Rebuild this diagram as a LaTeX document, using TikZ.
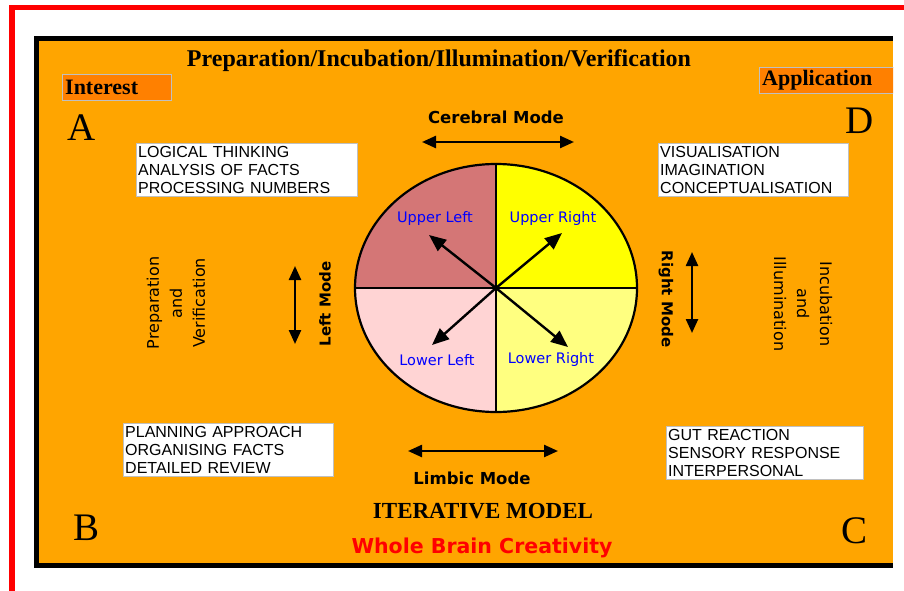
\documentclass[tikz,border=0pt]{standalone}
\usepackage{fontspec}
\setmainfont{Liberation Serif}
\newfontfamily\arialfont{Liberation Sans}
\newfontfamily\dejavufont{DejaVu Sans}
\usetikzlibrary{positioning,arrows.meta,shapes.geometric}
\definecolor{panelorange}{HTML}{FFA500}
\definecolor{tagorange}{HTML}{FF8000}
\definecolor{boxgray}{HTML}{C0C0C0}
\definecolor{ulcol}{HTML}{D47676}
\definecolor{urcol}{HTML}{FFFF00}
\definecolor{llcol}{HTML}{FFD4D4}
\definecolor{lrcol}{HTML}{FFFF80}

\begin{document}
\begin{tikzpicture}[x=1pt, y=-1pt, >={Triangle[length=14pt, width=12pt]}]
\tikzstyle{infobox}=[draw=boxgray, fill=white, anchor=north west, align=left, inner xsep=2pt, inner ysep=3pt, font=\arialfont\fontsize{16}{18}\selectfont]
\tikzstyle{tagbox}=[draw=boxgray, fill=tagorange, anchor=north west, align=left, inner xsep=3pt, inner ysep=0pt, minimum height=26pt, font=\bfseries\fontsize{22}{24}\selectfont]
\tikzstyle{corner}=[font=\fontsize{39}{40}\selectfont]
\tikzstyle{modelabel}=[font=\dejavufont\bfseries\fontsize{16.5}{18}\selectfont]
\tikzstyle{sidelabel}=[font=\dejavufont\bfseries\fontsize{15}{17}\selectfont]
\tikzstyle{phase}=[align=center, font=\dejavufont\fontsize{16}{23}\selectfont]
\tikzstyle{quadlabel}=[text=blue, font=\dejavufont\fontsize{14.5}{16}\selectfont]
\tikzstyle{modearrow}=[<->, line width=2.4pt]
\tikzstyle{quadarrow}=[->, line width=2.4pt, >={Triangle[length=17pt, width=14pt]}]
\useasboundingbox (0,0) rectangle (904,591);

% frame and panel
\fill[red] (9,5) rectangle (904,10);
\fill[red] (9,5) rectangle (15,591);
\fill[black] (34,36) rectangle (893,568);
\fill[panelorange] (39,41) rectangle (893,563);

% headings
\node[font=\bfseries\fontsize{24}{26}\selectfont] (title) at (439,61) {Preparation/Incubation/Illumination/Verification};
\node[tagbox, text width=103pt] (interest) at (62,74) {Interest};
\begin{scope}
\clip (0,0) rectangle (893,591);
\node[tagbox, text width=160pt] (application) at (759,67) {Application};
\end{scope}

\node[corner] (A) at (82,128) {A};
\node[corner] (D) at (860,121) {D};
\node[corner] (B) at (87,528) {B};
\node[corner] (C) at (854,531) {C};

% the four boxes
\node[infobox, text width=217pt] (logic) at (136,143) {LOGICAL THINKING\\ANALYSIS OF FACTS\\PROCESSING NUMBERS};
\node[infobox, text width=186pt] (visual) at (658,143) {VISUALISATION\\IMAGINATION\\CONCEPTUALISATION};
\node[infobox, text width=206pt] (plan) at (123,423) {PLANNING APPROACH\\ORGANISING FACTS\\DETAILED REVIEW};
\node[infobox, text width=193pt] (gut) at (666,426) {GUT REACTION\\SENSORY RESPONSE\\INTERPERSONAL};

% brain quadrants
\coordinate (mid) at (496,288);
\begin{scope}
\clip (mid) ellipse [x radius=141, y radius=124];
\fill[ulcol] (350,160) rectangle (496,288);
\fill[urcol] (496,160) rectangle (642,288);
\fill[llcol] (350,288) rectangle (496,416);
\fill[lrcol] (496,288) rectangle (642,416);
\end{scope}
\node[draw, ellipse, line width=2.2pt, inner sep=0pt, minimum width=282pt, minimum height=248pt] (brain) at (mid) {};
\draw[line width=2.8pt] (brain.north) -- (brain.south);
\draw[line width=2.8pt] (brain.west) -- (brain.east);

\coordinate (ultip) at (429,235);
\coordinate (urtip) at (562,233);
\coordinate (lltip) at (432,345);
\coordinate (lrtip) at (568,347);
\draw[quadarrow] (mid) -- (ultip);
\draw[quadarrow] (mid) -- (urtip);
\draw[quadarrow] (mid) -- (lltip);
\draw[quadarrow] (mid) -- (lrtip);

\node[quadlabel] (ul) at (435,218) {Upper Left};
\node[quadlabel] (ur) at (553,218) {Upper Right};
\node[quadlabel] (ll) at (437,360) {Lower Left};
\node[quadlabel] (lr) at (551,359) {Lower Right};

% modes
\coordinate (cerL) at (422,142);
\coordinate (cerR) at (574,142);
\draw[modearrow] (cerL) -- (cerR);
\node[modelabel] (cerebral) at (496,117) {Cerebral Mode};

\coordinate (limL) at (408,451);
\coordinate (limR) at (558,451);
\draw[modearrow] (limL) -- (limR);
\node[modelabel] (limbic) at (472,478) {Limbic Mode};

\coordinate (leftT) at (295,266);
\coordinate (leftB) at (295,344);
\draw[modearrow] (leftT) -- (leftB);
\node[sidelabel, rotate=90] (leftmode) at (325,304) {Left Mode};

\coordinate (rightT) at (692,252);
\coordinate (rightB) at (692,333);
\draw[modearrow] (rightT) -- (rightB);
\node[sidelabel, rotate=-90] (rightmode) at (666,299) {Right Mode};

\node[phase, rotate=90] (prepver) at (176,303) {Preparation\\and\\Verification};
\node[phase, rotate=-90] (incill) at (803,304) {Incubation\\and\\Illumination};

% footer
\node[font=\bfseries\fontsize{23}{25}\selectfont] (iterative) at (483,511) {ITERATIVE MODEL};
\node[text=red, font=\dejavufont\bfseries\fontsize{20.5}{22}\selectfont] (wbc) at (482,548) {Whole Brain Creativity};
\end{tikzpicture}
\end{document}
